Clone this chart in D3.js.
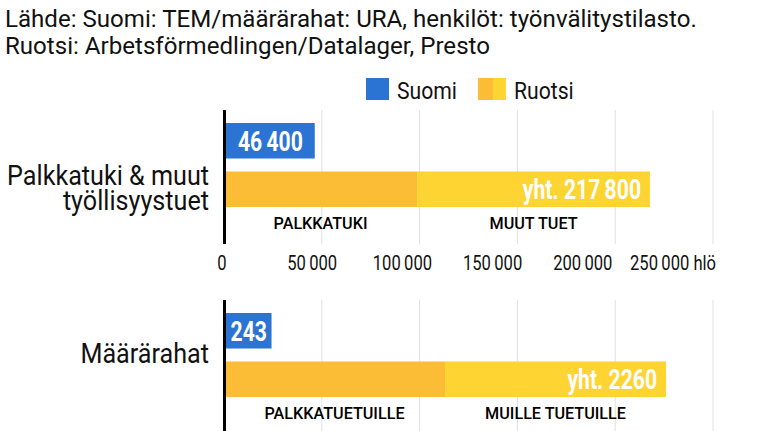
<!DOCTYPE html>
<html>
<head>
<meta charset="utf-8">
<script src="https://cdn.jsdelivr.net/npm/d3@7"></script>
<style>
  body { margin: 0; background: #fff; }
  svg { display: block; font-family: Roboto, "Noto Sans", sans-serif; }
</style>
</head>
<body>
<div id="chart"></div>
<script>
// data
const categories = [["Palkkatuki & muut", "työllisyystuet"], ["Määrärahat"]];
const suomi = [46400, 243];
const ruotsiPalkka = [98700, 1130];   // darker yellow part
const ruotsiTotal = [217800, 2260];
const segmentLabels = [["PALKKATUKI", "MUUT TUET"], ["PALKKATUETUILLE", "MUILLE TUETUILLE"]];
const domainMax = [250000, 2500];
const gridSteps = [50000, 500];
const tickValues = [0, 50000, 100000, 150000, 200000, 250000];
const sourceLines = ["Lähde: Suomi: TEM/määrärahat: URA, henkilöt: työnvälitystilasto.",
                     "Ruotsi: Arbetsförmedlingen/Datalager, Presto"];
const legendItems = ["Suomi", "Ruotsi"];

const W = 767, H = 431;
const BLUE = "#2b74d3", YEL_DARK = "#fbbd36", YEL_LIGHT = "#fed433";

const svg = d3.select('#chart').append('svg')
  .attr('width', W)
  .attr('height', H);

// thin space grouping only from five digits up (2260 stays as is)
const fmtGroup = d3.formatLocale({decimal: ",", thousands: "\u2009", grouping: [3], currency: ["", ""]}).format(",d");
function fmt(v) { return v >= 10000 ? fmtGroup(v) : String(v); }

// helper: text squeezed horizontally to mimic a condensed face
// k is found by measuring a reference string against its width in the picture
function condenseFactor(str, size, weight, target) {
  const t = svg.append('text').style('font-size', size + 'px').style('font-weight', weight).text(str);
  const w = t.node().getComputedTextLength();
  t.remove();
  return target / w;
}
function label(parent, x, y, str, o) {
  return parent.append('text')
    .attr('transform', 'translate(' + x + ',' + y + ') scale(' + o.k + ',1)')
    .attr('text-anchor', o.anchor || 'start')
    .style('font-size', o.size + 'px')
    .style('font-weight', o.weight || 400)
    .style('fill', o.fill || '#111')
    .text(str);
}

const kSource = condenseFactor(sourceLines[0], 23, 400, 692);
const kCat = condenseFactor("Palkkatuki & muut", 28, 400, 202);
const kLegend = condenseFactor("Suomi", 24, 400, 60);
const kTick = condenseFactor(fmt(50000), 21, 400, 50);
const kVal = condenseFactor(fmt(46400), 27, 700, 65);
const kSeg = condenseFactor("PALKKATUKI", 16, 500, 94);

// source text
sourceLines.forEach(function(s, i) {
  label(svg, 5, 27 + i * 27, s, {k: kSource, size: 23});
});

// legend
const legend = svg.append('g');
legend.append('rect').attr('x', 366).attr('y', 78).attr('width', 23).attr('height', 22).attr('fill', BLUE);
label(legend, 397, 99, legendItems[0], {k: kLegend, size: 24});
legend.append('rect').attr('x', 478).attr('y', 78).attr('width', 15).attr('height', 22).attr('fill', YEL_DARK);
legend.append('rect').attr('x', 493).attr('y', 78).attr('width', 13).attr('height', 22).attr('fill', YEL_LIGHT);
label(legend, 514, 99, legendItems[1], {k: kLegend, size: 24});

// panels
const panelTops = [110, 300];
const panelBottoms = [244, H];
const X0 = 224, X1 = 713;

// tick labels sit on a slightly narrower spacing than the gridlines in the picture
const labelScale = d3.scaleLinear().domain([0, 250000]).range([222, 673]);

categories.forEach(function(cat, i) {
  const top = panelTops[i];
  const x = d3.scaleLinear().domain([0, domainMax[i]]).range([X0, X1]);
  const y = d3.scaleBand().domain(["suomi", "ruotsi"]).range([top + 13, top + 97]).paddingInner(0.268);
  const g = svg.append('g');

  // gridlines
  g.selectAll('line.grid')
    .data(d3.range(gridSteps[i], domainMax[i] + 1, gridSteps[i]))
    .join('line')
    .attr('x1', function(d){return x(d)})
    .attr('x2', function(d){return x(d)})
    .attr('y1', top)
    .attr('y2', panelBottoms[i])
    .style('stroke', '#e0e0e0')
    .style('stroke-width', 1);

  // Suomi bar
  g.append('rect')
    .attr('x', x(0)).attr('y', y('suomi'))
    .attr('width', x(suomi[i]) - x(0)).attr('height', y.bandwidth())
    .attr('fill', BLUE);
  label(g, (x(0) + x(suomi[i])) / 2 + 1, y('suomi') + y.bandwidth() / 2 + 10, fmt(suomi[i]),
    {k: kVal, size: 27, weight: 700, fill: '#fff', anchor: 'middle'});

  // Ruotsi stacked bar
  g.append('rect')
    .attr('x', x(0)).attr('y', y('ruotsi'))
    .attr('width', x(ruotsiPalkka[i]) - x(0)).attr('height', y.bandwidth())
    .attr('fill', YEL_DARK);
  g.append('rect')
    .attr('x', x(ruotsiPalkka[i])).attr('y', y('ruotsi'))
    .attr('width', x(ruotsiTotal[i]) - x(ruotsiPalkka[i])).attr('height', y.bandwidth())
    .attr('fill', YEL_LIGHT);
  label(g, x(ruotsiTotal[i]) - 9, y('ruotsi') + y.bandwidth() / 2 + 10, 'yht. ' + fmt(ruotsiTotal[i]),
    {k: kVal, size: 27, weight: 700, fill: '#fff', anchor: 'end'});

  // segment labels under the Ruotsi bar
  const segMid = [(x(0) + x(ruotsiPalkka[i])) / 2, (x(ruotsiPalkka[i]) + x(ruotsiTotal[i])) / 2];
  segmentLabels[i].forEach(function(s, j) {
    label(g, segMid[j], top + 119, s, {k: kSeg, size: 16, weight: 500, anchor: 'middle', fill: '#000'});
  });

  // category label, one text element with a tspan per line
  const catText = label(g, 209, cat.length > 1 ? top + 75 : top + 63, '', {k: kCat, size: 28, anchor: 'end'});
  cat.forEach(function(line, j) {
    catText.append('tspan').attr('x', 0).attr('dy', j === 0 ? 0 : 25).text(line);
  });

  // axis line
  g.append('line')
    .attr('x1', X0 + 0.5).attr('x2', X0 + 0.5)
    .attr('y1', top).attr('y2', panelBottoms[i])
    .style('stroke', '#000')
    .style('stroke-width', 3);
});

// tick labels (top panel only)
svg.append('g').selectAll('g.tick')
  .data(tickValues)
  .join('g')
  .each(function(d, i) {
    const s = fmt(d) + (i === tickValues.length - 1 ? ' hlö' : '');
    label(d3.select(this), labelScale(d), 270, s, {k: kTick, size: 21, anchor: 'middle'});
  });
</script>
</body>
</html>
